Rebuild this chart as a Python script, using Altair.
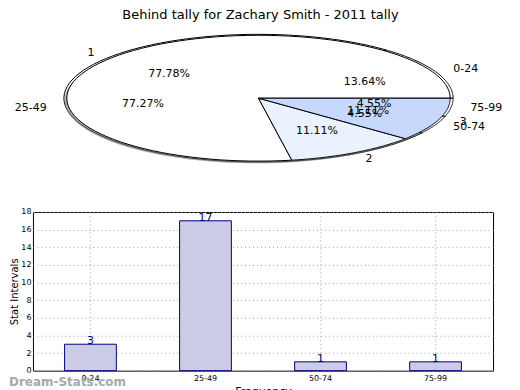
import altair as alt
import pandas as pd

# ---- data ----
title_text = "Behind tally for Zachary Smith - 2011 tally"
ranges = ["0-24", "25-49", "50-74", "75-99"]
range_counts = [3, 17, 1, 1]
groups = ["1", "2", "3"]
group_counts = [7, 1, 1]
group_colors = ["#ffffff", "#eaf2ff", "#c6d9fd"]
y_ticks = [0, 2, 4, 6, 8, 10, 12, 14, 16, 18]

df_r = pd.DataFrame({"cat": ranges, "v": range_counts, "idx": list(range(len(ranges)))})
df_g = pd.DataFrame({"cat": groups, "v": group_counts, "idx": list(range(len(groups)))})
bar_df = pd.DataFrame({"range": ranges, "count": range_counts})

FONT = "DejaVu Sans"
N = 90
PIE_W, PIE_H = 480, 192
XS = alt.Scale(domain=[-1.1590, 1.3026], nice=False, zero=False)
YS = alt.Scale(domain=[-1.59375, 1.40625], nice=False, zero=False)


def base(df):
    return (
        alt.Chart(df)
        .transform_joinaggregate(total="sum(v)")
        .transform_window(cum="sum(v)", frame=[None, 0], sort=[alt.SortField("idx", order="ascending")])
        .transform_calculate(
            a0="(datum.cum - datum.v) / datum.total * 2 * PI",
            a1="datum.cum / datum.total * 2 * PI",
            mid="(datum.cum - datum.v / 2) / datum.total * 2 * PI",
            pct="format(datum.v / datum.total * 100, '.2f') + '%'",
        )
    )


def polygons(df, r, dx=0.0, dy=0.0):
    return (
        base(df)
        .transform_calculate(k=f"sequence(0, {N + 3})")
        .transform_flatten(["k"])
        .transform_calculate(
            rr=f"(datum.k == 0 || datum.k == {N + 2}) ? 0 : {r}",
            ang=f"datum.a0 + (datum.a1 - datum.a0) * (datum.k - 1) / {N}",
        )
        .transform_calculate(
            px=f"datum.rr * cos(datum.ang) + ({dx})",
            py=f"datum.rr * sin(datum.ang) + ({dy})",
        )
    )


def enc_xy(xf, yf):
    return dict(
        x=alt.X(f"{xf}:Q", scale=XS, axis=None),
        y=alt.Y(f"{yf}:Q", scale=YS, axis=None),
    )


range_pie = polygons(df_r, 1.0).mark_line(
    fill="#ffffff", stroke="black", strokeWidth=1, strokeJoin="round"
).encode(detail="cat:N", order="k:Q", **enc_xy("px", "py"))

shadow = polygons(df_g, 0.985, -0.012, -0.035).mark_line(
    fill="#777777", fillOpacity=0.6, strokeOpacity=0
).encode(detail="cat:N", order="k:Q", **enc_xy("px", "py"))

group_pie = polygons(df_g, 0.985).mark_line(
    stroke="black", strokeWidth=1, strokeJoin="round"
).encode(
    detail="cat:N",
    order="k:Q",
    fill=alt.Fill("cat:N", scale=alt.Scale(domain=groups, range=group_colors), legend=None),
    **enc_xy("px", "py"),
)


def labels(df, r):
    b = base(df).transform_calculate(
        lx=f"{r} * 1.1 * cos(datum.mid)", ly=f"{r} * 1.1 * sin(datum.mid)"
    )
    right = b.transform_filter("datum.lx >= 0").mark_text(
        align="left", baseline="middle", fontSize=11, font=FONT, color="black"
    ).encode(text="cat:N", **enc_xy("lx", "ly"))
    left = b.transform_filter("datum.lx < 0").mark_text(
        align="right", baseline="middle", fontSize=11, font=FONT, color="black"
    ).encode(text="cat:N", **enc_xy("lx", "ly"))
    return right + left


def percents(df, r):
    return base(df).transform_calculate(
        tx=f"{r} * 0.6 * cos(datum.mid)", ty=f"{r} * 0.6 * sin(datum.mid)"
    ).mark_text(
        align="center", baseline="middle", fontSize=11, font=FONT, color="black"
    ).encode(text="pct:N", **enc_xy("tx", "ty"))


title_mark = alt.Chart(pd.DataFrame({"t": [title_text]})).mark_text(
    fontSize=13, font=FONT, baseline="middle", align="center", color="black"
).encode(text="t:N", x=alt.value(228), y=alt.value(7))

pie = alt.layer(
    range_pie,
    shadow,
    group_pie,
    labels(df_r, 1.0),
    labels(df_g, 1.0),
    percents(df_r, 1.0),
    percents(df_g, 1.0),
    title_mark,
).properties(width=PIE_W, height=PIE_H, view=alt.ViewBackground(stroke=None))

# ---- bar chart ----
grid_kw = dict(grid=True, gridDash=[1, 3], gridColor="#a0a0a0", gridWidth=1)
xb = alt.X(
    "range:N",
    sort=ranges,
    scale=alt.Scale(paddingInner=0.55, paddingOuter=0.275),
    axis=alt.Axis(
        title="Frequency", labelAngle=0, labelFontSize=8, labelFont=FONT, tickSize=0,
        labelPadding=4, titleFontSize=11, titleFont=FONT, titleFontWeight="normal",
        titlePadding=3, domain=False, labelColor="black", titleColor="black",
        labelOverlap=False, **grid_kw,
    ),
)
yb = alt.Y(
    "count:Q",
    scale=alt.Scale(domain=[0, 18], nice=False, zero=True),
    axis=alt.Axis(
        title="Stat Intervals", values=y_ticks, labelFontSize=8, labelFont=FONT, tickSize=0,
        labelPadding=2, titleFontSize=10, titleFont=FONT, titleFontWeight="normal",
        titlePadding=1, domain=False, labelColor="black", titleColor="black",
        labelOverlap=False, labelBound=False, labelFlush=False, **grid_kw,
    ),
)
bar_base = alt.Chart(bar_df).encode(x=xb, y=yb)
bars = bar_base.mark_bar(fill="#ccccE6", stroke="#000080", strokeWidth=1)
vals = bar_base.mark_text(
    baseline="bottom", dy=2, fontSize=11, font=FONT, color="#000080"
).encode(text="count:Q")
watermark = alt.Chart(pd.DataFrame({"w": ["Dream-Stats.com"]})).mark_text(
    align="left", baseline="middle", fontSize=12, fontWeight="bold", font=FONT, color="#a8a8a8"
).encode(text="w:N", x=alt.value(-24), y=alt.value(170))

bar_chart = alt.layer(bars, vals, watermark).properties(
    width=461, height=159, view=alt.ViewBackground(stroke="black", strokeWidth=1)
)

chart = (
    alt.vconcat(pie, bar_chart, spacing=7)
    .properties(padding=0)
    .configure(font=FONT)
)

chart.save("out.html", embed_options={"renderer": "svg", "actions": False})
